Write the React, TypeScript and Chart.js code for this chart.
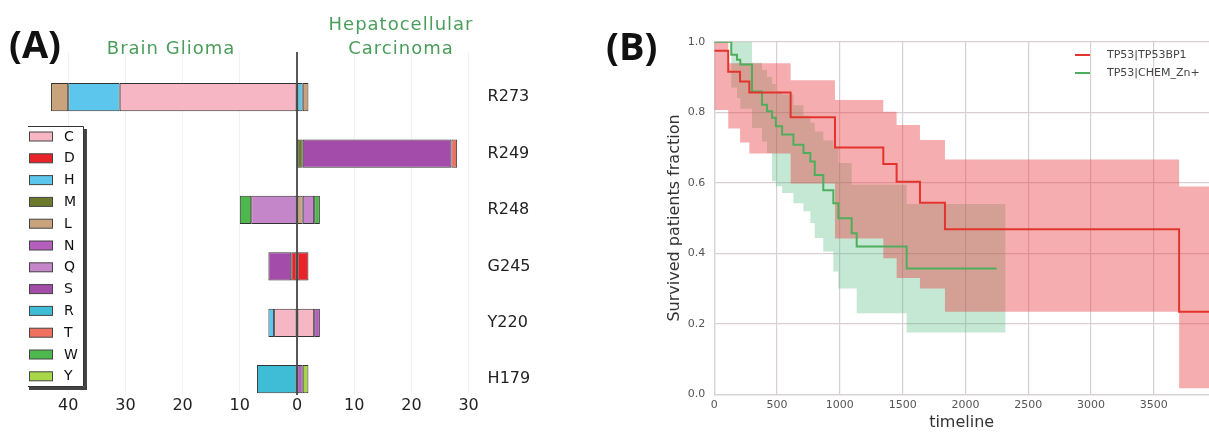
import React, { useEffect, useRef } from 'react';
import { Chart, registerables } from 'chart.js';

Chart.register(...registerables);

const FONT = 'DejaVu Sans';

// ---------------- Panel A data ----------------
const mutations = ['R273', 'R249', 'R248', 'G245', 'Y220', 'H179'];
const residues = ['C', 'D', 'H', 'M', 'L', 'N', 'Q', 'S', 'R', 'T', 'W', 'Y'];
const residueColors = ['#f7b6c3', '#e8232a', '#5cc6ec', '#6c7a2c', '#c9a37b', '#b45fbd', '#c585c9', '#a44caa', '#3fbcd6', '#f0705f', '#4db84d', '#a8d64b'];

// Brain Glioma counts (drawn to the left), per residue, per mutation
const glioma_C = [31, 0, 0, 0, 4, 0];
const glioma_D = [0, 0, 0, 1, 0, 0];
const glioma_H = [9, 0, 0, 0, 1, 0];
const glioma_M = [0, 0, 0, 0, 0, 0];
const glioma_L = [3, 0, 0, 0, 0, 0];
const glioma_N = [0, 0, 0, 0, 0, 0];
const glioma_Q = [0, 0, 8, 0, 0, 0];
const glioma_S = [0, 0, 0, 4, 0, 0];
const glioma_R = [0, 0, 0, 0, 0, 7];
const glioma_T = [0, 0, 0, 0, 0, 0];
const glioma_W = [0, 0, 2, 0, 0, 0];
const glioma_Y = [0, 0, 0, 0, 0, 0];

// Hepatocellular Carcinoma counts (drawn to the right)
const hcc_C = [0, 0, 0, 0, 3, 0];
const hcc_D = [0, 0, 0, 2, 0, 0];
const hcc_H = [1, 0, 0, 0, 0, 0];
const hcc_M = [0, 1, 0, 0, 0, 0];
const hcc_L = [1, 0, 1, 0, 0, 0];
const hcc_N = [0, 0, 0, 0, 1, 1];
const hcc_Q = [0, 0, 2, 0, 0, 0];
const hcc_S = [0, 26, 0, 0, 0, 0];
const hcc_R = [0, 0, 0, 0, 0, 0];
const hcc_T = [0, 1, 0, 0, 0, 0];
const hcc_W = [0, 0, 1, 0, 0, 0];
const hcc_Y = [0, 0, 0, 0, 0, 1];

const gliomaCounts = [glioma_C, glioma_D, glioma_H, glioma_M, glioma_L, glioma_N, glioma_Q, glioma_S, glioma_R, glioma_T, glioma_W, glioma_Y];
const hccCounts = [hcc_C, hcc_D, hcc_H, hcc_M, hcc_L, hcc_N, hcc_Q, hcc_S, hcc_R, hcc_T, hcc_W, hcc_Y];

const xTicksA = [-40, -30, -20, -10, 0, 10, 20, 30];

// ---------------- Panel B data ----------------
const bp1Label = 'TP53|TP53BP1';
const bp1Times = [0, 111, 205, 279, 608, 961, 1346, 1452, 1638, 1837, 3702];
const bp1Surv = [0.974, 0.915, 0.887, 0.856, 0.786, 0.7, 0.653, 0.603, 0.543, 0.468, 0.234];
const bp1Upper = [1.0, 0.939, 0.939, 0.939, 0.891, 0.835, 0.801, 0.764, 0.721, 0.666, 0.589];
const bp1Lower = [0.806, 0.754, 0.714, 0.683, 0.598, 0.442, 0.386, 0.33, 0.3, 0.234, 0.017];
const bp1End = 3940;

const znLabel = 'TP53|CHEM_Zn+';
const znTimes = [0, 135, 181, 207, 300, 380, 420, 460, 490, 540, 630, 710, 765, 800, 868, 948, 988, 1094, 1134, 1532];
const znSurv = [1.0, 0.963, 0.949, 0.935, 0.859, 0.821, 0.803, 0.784, 0.76, 0.737, 0.708, 0.684, 0.66, 0.622, 0.579, 0.542, 0.499, 0.457, 0.419, 0.357];
const znUpper = [1.0, 1.0, 1.0, 1.0, 0.94, 0.92, 0.9, 0.88, 0.86, 0.85, 0.82, 0.79, 0.77, 0.745, 0.72, 0.7, 0.656, 0.594, 0.594, 0.54];
const znLower = [1.0, 0.87, 0.84, 0.81, 0.755, 0.717, 0.684, 0.604, 0.59, 0.571, 0.542, 0.519, 0.486, 0.443, 0.405, 0.348, 0.3, 0.3, 0.23, 0.175];
const znLineEnd = 2249;
const znBandEnd = 2320;

const xTicksB = [0, 500, 1000, 1500, 2000, 2500, 3000, 3500];
const yTicksB = [0, 0.2, 0.4, 0.6, 0.8, 1.0];

const bp1Color = '#e2342d';
const znColor = '#4fae5c';

function steps(times: number[], vals: number[], end: number) {
  const pts = times.map((t, i) => ({ x: t, y: vals[i] }));
  pts.push({ x: end, y: vals[vals.length - 1] });
  return pts;
}

// ---------------- Panel A plugins ----------------
const panelADecor = {
  id: 'panelADecor',
  afterDatasetsDraw(chart: any) {
    const { ctx, chartArea, scales } = chart;
    const x0 = scales.x.getPixelForValue(0);
    ctx.save();
    ctx.strokeStyle = '#222';
    ctx.lineWidth = 1.5;
    ctx.beginPath();
    ctx.moveTo(x0, chartArea.top);
    ctx.lineTo(x0, chartArea.bottom);
    ctx.stroke();
    ctx.restore();
  },
  afterDraw(chart: any) {
    const { ctx } = chart;
    ctx.save();
    // panel letter
    ctx.fillStyle = '#111';
    ctx.font = `bold 38px "Open Sans"`;
    ctx.textBaseline = 'alphabetic';
    ctx.textAlign = 'left';
    ctx.fillText('(A)', 9, 58);
    // titles
    ctx.fillStyle = '#4a9d5b';
    ctx.font = `18px "${FONT}"`;
    (ctx as any).letterSpacing = '1px';
    ctx.textAlign = 'center';
    ctx.fillText('Brain Glioma', 171, 53.5);
    ctx.fillText('Hepatocellular', 401, 29.5);
    ctx.fillText('Carcinoma', 401, 53.5);
    (ctx as any).letterSpacing = '0px';
    // legend with shadow
    const lx = 26, ly = 126, lw = 58, lh = 261;
    ctx.fillStyle = '#444';
    ctx.fillRect(lx + 3, ly + 3, lw, lh);
    ctx.fillStyle = '#fff';
    ctx.fillRect(lx, ly, lw, lh);
    ctx.strokeStyle = '#333';
    ctx.lineWidth = 1;
    ctx.beginPath();
    ctx.moveTo(lx + 2, ly + 0.5);
    ctx.lineTo(lx + lw - 0.5, ly + 0.5);
    ctx.lineTo(lx + lw - 0.5, ly + lh - 0.5);
    ctx.lineTo(lx + 2, ly + lh - 0.5);
    ctx.stroke();
    ctx.font = `14px "${FONT}"`;
    ctx.textAlign = 'left';
    ctx.textBaseline = 'middle';
    residues.forEach((r, k) => {
      const cy = 136.5 + k * 21.8;
      ctx.fillStyle = residueColors[k];
      ctx.fillRect(29, cy - 4.5, 24, 9);
      ctx.strokeStyle = '#444';
      ctx.strokeRect(29.5, cy - 4.5, 23, 9);
      ctx.fillStyle = '#111';
      ctx.fillText(r, 64, cy + 0.5);
    });
    ctx.restore();
  },
};

// ---------------- Panel B plugin ----------------
const panelBDecor = {
  id: 'panelBDecor',
  afterDraw(chart: any) {
    const { ctx } = chart;
    ctx.save();
    ctx.fillStyle = '#111';
    ctx.font = `bold 38px "Open Sans"`;
    ctx.textBaseline = 'alphabetic';
    ctx.textAlign = 'left';
    ctx.fillText('(B)', 6, 59.5);
    const items = [
      { label: bp1Label, color: bp1Color, y: 55 },
      { label: znLabel, color: znColor, y: 73 },
    ];
    ctx.font = `11px "${FONT}"`;
    ctx.textBaseline = 'middle';
    items.forEach((it) => {
      ctx.strokeStyle = it.color;
      ctx.lineWidth = 2;
      ctx.beginPath();
      ctx.moveTo(475, it.y);
      ctx.lineTo(490, it.y);
      ctx.stroke();
      ctx.fillStyle = '#444';
      ctx.fillText(it.label, 507, it.y + 0.5);
    });
    ctx.restore();
  },
};

function PanelA() {
  const ref = useRef<HTMLCanvasElement>(null);
  useEffect(() => {
    if (!ref.current) return;
    const datasets: any[] = [];
    residues.forEach((r, k) => {
      const common = {
        label: r,
        backgroundColor: residueColors[k],
        borderColor: '#333',
        borderWidth: 1,
        borderSkipped: false,
        barPercentage: 0.5,
        categoryPercentage: 1,
      };
      datasets.push({
        ...common,
        data: mutations
          .map((m, i) => (gliomaCounts[k][i] ? { x: -gliomaCounts[k][i], y: i } : null))
          .filter((p) => p !== null),
      });
      datasets.push({
        ...common,
        data: mutations
          .map((m, i) => (hccCounts[k][i] ? { x: hccCounts[k][i], y: i } : null))
          .filter((p) => p !== null),
      });
    });
    const chart = new Chart(ref.current, {
      type: 'bar',
      data: { datasets },
      options: {
        indexAxis: 'y',
        animation: false,
        responsive: false,
        layout: { padding: { left: 39.6, top: 52, right: 0, bottom: 0 } },
        plugins: { legend: { display: false }, tooltip: { enabled: false } },
        scales: {
          x: {
            type: 'linear',
            min: -45,
            max: 30,
            stacked: true,
            afterBuildTicks: (s: any) => {
              s.ticks = xTicksA.map((v) => ({ value: v }));
            },
            ticks: {
              callback: (v: any) => String(Math.abs(Number(v))),
              font: { family: FONT, size: 16 },
              color: '#222',
              padding: 1,
              maxRotation: 0,
            },
            grid: { color: '#f1f1f1', drawTicks: false },
            border: { display: false },
            afterFit: (s: any) => {
              s.height = 37;
            },
          },
          y: {
            type: 'linear',
            position: 'right',
            reverse: true,
            offset: false,
            min: -0.8,
            max: 5.28,
            stacked: true,
            afterBuildTicks: (s: any) => {
              s.ticks = mutations.map((m, i) => ({ value: i }));
            },
            ticks: {
              callback: (v: any) => mutations[Number(v)] ?? '',
              font: { family: FONT, size: 16 },
              color: '#222',
              padding: 19,
            },
            grid: { display: false, drawTicks: false, offset: false },
            border: { display: false },
            afterFit: (s: any) => {
              s.width = 131.4;
            },
          },
        },
      } as any,
      plugins: [panelADecor],
    });
    return () => chart.destroy();
  }, []);
  return <canvas ref={ref} width={600} height={432} style={{ position: 'absolute', left: 0, top: 0 }} />;
}

function PanelB() {
  const ref = useRef<HTMLCanvasElement>(null);
  useEffect(() => {
    if (!ref.current) return;
    const hidden = { borderColor: 'rgba(0,0,0,0)', borderWidth: 0, pointRadius: 0, stepped: 'before' as const };
    const chart = new Chart(ref.current, {
      type: 'line',
      data: {
        datasets: [
          {
            label: bp1Label,
            data: steps(bp1Times, bp1Surv, bp1End),
            borderColor: bp1Color,
            backgroundColor: bp1Color,
            borderWidth: 2,
            pointRadius: 0,
            stepped: 'before',
            fill: false,
            order: 0,
          },
          {
            label: znLabel,
            data: steps(znTimes, znSurv, znLineEnd),
            borderColor: znColor,
            backgroundColor: znColor,
            borderWidth: 2,
            pointRadius: 0,
            stepped: 'before',
            fill: false,
            order: 1,
          },
          {
            label: bp1Label + ' upper',
            data: steps(bp1Times, bp1Upper, bp1End),
            ...hidden,
            backgroundColor: 'rgba(233,60,65,0.42)',
            fill: '+1',
            order: 2,
          },
          {
            label: bp1Label + ' lower',
            data: steps(bp1Times, bp1Lower, bp1End),
            ...hidden,
            fill: false,
            order: 2,
          },
          {
            label: znLabel + ' upper',
            data: steps(znTimes, znUpper, znBandEnd),
            ...hidden,
            backgroundColor: 'rgba(75,185,125,0.33)',
            fill: '+1',
            order: 3,
          },
          {
            label: znLabel + ' lower',
            data: steps(znTimes, znLower, znBandEnd),
            ...hidden,
            fill: false,
            order: 3,
          },
        ],
      },
      options: {
        animation: false,
        responsive: false,
        layout: { padding: { left: 65, top: 41.7, right: 0, bottom: 0 } },
        plugins: { legend: { display: false }, tooltip: { enabled: false } },
        scales: {
          x: {
            type: 'linear',
            min: 0,
            max: 3940,
            afterBuildTicks: (s: any) => {
              s.ticks = xTicksB.map((v) => ({ value: v }));
            },
            ticks: {
              callback: (v: any) => String(v),
              font: { family: FONT, size: 11 },
              color: '#555',
              padding: 4,
              maxRotation: 0,
            },
            grid: { color: '#d8d0d0', lineWidth: 1.2, drawTicks: false },
            border: { color: '#d8d0d0', width: 1.2 },
            title: { display: true, text: 'timeline', font: { family: FONT, size: 16 }, color: '#333', padding: 0 },
            afterFit: (s: any) => {
              s.height = 37.7;
            },
          },
          y: {
            type: 'linear',
            min: 0,
            max: 1,
            afterBuildTicks: (s: any) => {
              s.ticks = yTicksB.map((v) => ({ value: v }));
            },
            ticks: {
              callback: (v: any) => Number(v).toFixed(1),
              font: { family: FONT, size: 11 },
              color: '#555',
              padding: 9,
            },
            grid: { color: '#d8d0d0', lineWidth: 1.2, drawTicks: false },
            border: { color: '#d8d0d0', width: 1.2 },
            title: {
              display: true,
              text: 'Survived patients fraction',
              font: { family: FONT, size: 16 },
              color: '#333',
              padding: 0,
            },
            afterFit: (s: any) => {
              s.width = 114.3 - 65;
            },
          },
        },
      } as any,
      plugins: [panelBDecor],
    });
    return () => chart.destroy();
  }, []);
  return <canvas ref={ref} width={609} height={432} style={{ position: 'absolute', left: 600, top: 0 }} />;
}

export default function App() {
  return (
    <div style={{ position: 'absolute', left: 0, top: 0, width: 1209, height: 432, background: '#fff' }}>
      <PanelA />
      <PanelB />
    </div>
  );
}
